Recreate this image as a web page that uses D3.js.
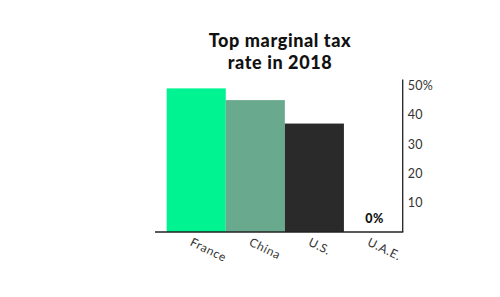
<!DOCTYPE html>
<html>
<head>
<meta charset="utf-8">
<script src="https://cdn.jsdelivr.net/npm/d3@7"></script>
<style>
  body { margin: 0; background: #fff; }
  svg { display: block; }
</style>
</head>
<body>
<div id="chart"></div>
<script>
var countries = ["France", "China", "U.S.", "U.A.E."];
var rates = [49, 45, 37, 0];
var colors = ["#00f391", "#69a98e", "#2a2a2a", "#ffffff"];
var tickValues = [10, 20, 30, 40, 50];
var titleLines = ["Top marginal tax", "rate in 2018"];

var width = 500, height = 297;
var svg = d3.select("#chart").append("svg")
    .attr("width", width)
    .attr("height", height);

var x = d3.scaleBand()
    .domain(countries)
    .range([166.7, 403])
    .padding(0);

var y = d3.scaleLinear()
    .domain([0, 52])
    .range([232, 79.6]);

// title
svg.append("g").selectAll("text")
  .data(titleLines)
  .enter().append("text")
    .attr("x", 280)
    .attr("y", function(d, i) { return 46.5 + i * 22; })
    .attr("text-anchor", "middle")
    .style("font-family", "Lato, sans-serif")
    .style("font-weight", 900)
    .style("font-size", "18px")
    .style("letter-spacing", "0.6px")
    .style("fill", "#111")
    .text(function(d) { return d; });

// bars
svg.append("g").selectAll("rect")
  .data(countries)
  .enter().append("rect")
    .attr("x", function(d) { return x(d); })
    .attr("width", x.bandwidth())
    .attr("y", function(d, i) { return y(rates[i]); })
    .attr("height", function(d, i) { return y(0) - y(rates[i]); })
    .attr("fill", function(d, i) { return colors[i]; });

// 0% label for zero bar
svg.append("g").selectAll("text")
  .data(countries.filter(function(d, i) { return rates[i] === 0; }))
  .enter().append("text")
    .attr("x", function(d) { return x(d) + x.bandwidth() / 2 + 1; })
    .attr("y", 223)
    .attr("text-anchor", "middle")
    .style("font-family", "Lato, sans-serif")
    .style("font-weight", 900)
    .style("font-size", "12.5px")
    .style("letter-spacing", "0.3px")
    .style("fill", "#111")
    .text("0%");

// y axis on right
var yAxis = d3.axisRight(y)
    .tickValues(tickValues)
    .tickSize(0)
    .tickPadding(5)
    .tickFormat(function(d) { return d === 50 ? d + "%" : d; });

var ya = svg.append("g")
    .attr("transform", "translate(402.7,0)")
    .call(yAxis);
ya.select(".domain").remove();
ya.selectAll("text")
    .style("font-family", "Lato, sans-serif")
    .style("font-size", "12.5px")
    .style("letter-spacing", "0.3px")
    .style("fill", "#333");

svg.append("line")
    .attr("x1", 402.7).attr("x2", 402.7)
    .attr("y1", y(52)).attr("y2", y(0))
    .attr("stroke", "#222").attr("stroke-width", 1.3);

// baseline
svg.append("line")
    .attr("x1", 155).attr("x2", 403.3)
    .attr("y1", y(0)).attr("y2", y(0))
    .attr("stroke", "#222").attr("stroke-width", 1.3);

// x labels, rotated
svg.append("g").selectAll("text")
  .data(countries)
  .enter().append("text")
    .attr("transform", function(d) {
      return "translate(" + (x(d) + x.bandwidth() / 2 - 7) + ",245)rotate(26)";
    })
    .attr("text-anchor", "start")
    .style("font-family", "Lato, sans-serif")
    .style("font-size", "12px")
    .style("letter-spacing", "0.6px")
    .style("fill", "#333")
    .text(function(d) { return d; });
</script>
</body>
</html>
